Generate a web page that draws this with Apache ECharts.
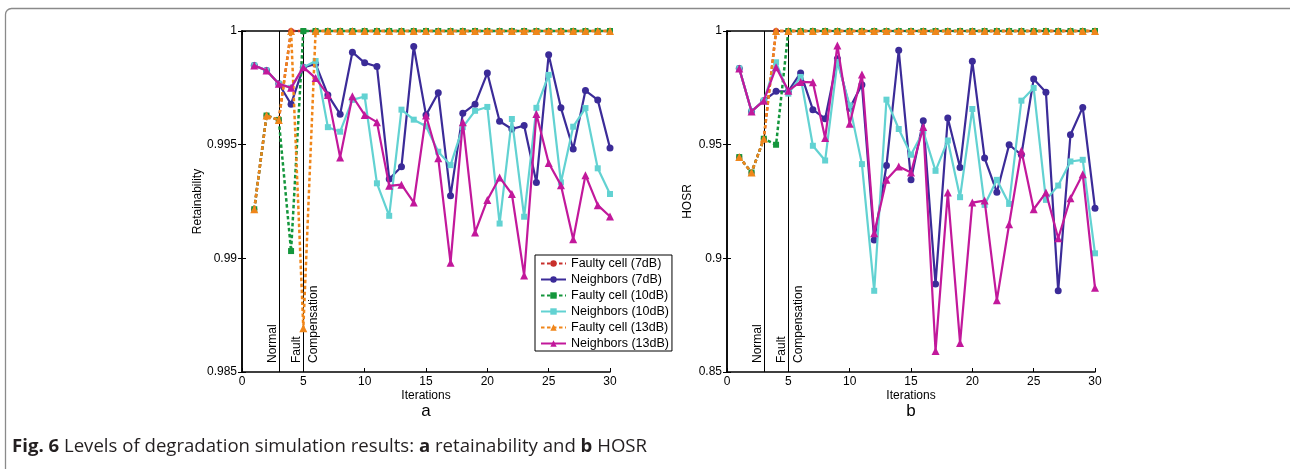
<!DOCTYPE html>
<html><head><meta charset="utf-8">
<script src="https://cdn.jsdelivr.net/npm/echarts@6/dist/echarts.min.js"></script>
<style>html,body{margin:0;padding:0;background:#fff}#c{width:1290px;height:469px}</style>
</head><body><div id="c"></div>
<script>
const iterations = [1,2,3,4,5,6,7,8,9,10,11,12,13,14,15,16,17,18,19,20,21,22,23,24,25,26,27,28,29,30];
const seriesNames = ['Faulty cell (7dB)','Neighbors (7dB)','Faulty cell (10dB)','Neighbors (10dB)','Faulty cell (13dB)','Neighbors (13dB)'];
const xTicks = [0,5,10,15,20,25,30];
const retTickLabels = ['0.985','0.99','0.995','1'];
const hosrTickLabels = ['0.85','0.9','0.95','1'];
const phaseLabels = ['Normal','Fault','Compensation'];
const phaseLines = [3,5];

// Retainability (a)
const retFaulty7  = [0.99216,0.99628,0.99609,1,1,1,1,1,1,1,1,1,1,1,1,1,1,1,1,1,1,1,1,1,1,1,1,1,1,1];
const retNb7      = [0.99848,0.99826,0.99768,0.99678,0.9984,0.99855,0.99719,0.99634,0.99907,0.9986,0.99844,0.99349,0.99403,0.99932,0.9963,0.99728,0.99275,0.99638,0.99678,0.99815,0.99603,0.99569,0.99584,0.99334,0.99896,0.99662,0.99481,0.99738,0.99697,0.99485];
const retFaulty10 = [0.99216,0.99628,0.99609,0.99032,1,1,1,1,1,1,1,1,1,1,1,1,1,1,1,1,1,1,1,1,1,1,1,1,1,1];
const retNb10     = [0.99848,0.99826,0.99768,0.9975,0.9984,0.99868,0.99577,0.99557,0.99697,0.99712,0.9933,0.99187,0.99654,0.9961,0.99581,0.99469,0.9941,0.99577,0.99649,0.99666,0.99153,0.99613,0.99183,0.99662,0.99807,0.99334,0.99579,0.99661,0.99396,0.99283];
const retFaulty13 = [0.99216,0.99628,0.99609,1,0.98692,1,1,1,1,1,1,1,1,1,1,1,1,1,1,1,1,1,1,1,1,1,1,1,1,1];
const retNb13     = [0.99848,0.99826,0.99768,0.9975,0.99841,0.99793,0.99719,0.99444,0.99713,0.99631,0.99599,0.99319,0.99324,0.99246,0.99628,0.9944,0.98981,0.99599,0.99114,0.99257,0.99356,0.99283,0.98925,0.99635,0.99419,0.99322,0.99084,0.99366,0.99234,0.99184];

// HOSR (b)
const hosrFaulty7  = [0.94453,0.93774,0.9526,1,1,1,1,1,1,1,1,1,1,1,1,1,1,1,1,1,1,1,1,1,1,1,1,1,1,1];
const hosrNb7      = [0.98347,0.96464,0.96936,0.97346,0.97346,0.98157,0.96539,0.96142,0.98774,0.966,0.97641,0.90807,0.94083,0.99153,0.93452,0.96054,0.88867,0.96173,0.93995,0.98668,0.94409,0.9291,0.94996,0.94555,0.97892,0.97302,0.88572,0.95437,0.9664,0.92205];
const hosrFaulty10 = [0.94453,0.93774,0.9526,0.94996,1,1,1,1,1,1,1,1,1,1,1,1,1,1,1,1,1,1,1,1,1,1,1,1,1,1];
const hosrNb10     = [0.98347,0.96464,0.96936,0.98625,0.97244,0.97979,0.94951,0.94303,0.98642,0.96729,0.94144,0.88572,0.9698,0.95688,0.94555,0.95582,0.93849,0.95185,0.9269,0.9657,0.9235,0.93452,0.92394,0.96936,0.97496,0.92571,0.93201,0.94261,0.94334,0.9022];
const hosrFaulty13 = [0.94453,0.93774,0.9526,1,1,1,1,1,1,1,1,1,1,1,1,1,1,1,1,1,1,1,1,1,1,1,1,1,1,1];
const hosrNb13     = [0.98347,0.96464,0.96936,0.98404,0.97377,0.9776,0.97743,0.95291,0.99361,0.95922,0.98082,0.91102,0.93452,0.94039,0.93774,0.95776,0.85926,0.92893,0.86279,0.92452,0.9254,0.88161,0.91499,0.94731,0.9216,0.92893,0.90882,0.92645,0.93704,0.88704];

const FONT = '"Liberation Sans", Arial, Helvetica, sans-serif';
const colors = ['#c8302c','#3b2b98','#14963c','#62d2d2','#f0861a','#c2189b'];
const symbols = ['circle','circle','rect','rect','triangle','triangle'];
const symSizes = [6,7,6,6,8,8];

const chart = echarts.init(document.getElementById('c'), null, {renderer:'canvas'});

function pair(arr){ return iterations.map((x,i)=>[x,arr[i]]); }

function makeSeries(sets, gridIdx){
  return sets.map((arr,k)=>{
    const faulty = k%2===0;
    return {
      name: seriesNames[k], type:'line', xAxisIndex: gridIdx*2, yAxisIndex: gridIdx*2,
      data: pair(arr), symbol: symbols[k], symbolSize: symSizes[k], showSymbol:true,
      clip:false, animation:false, z: 3+k,
      itemStyle:{color:colors[k]},
      lineStyle:{color:colors[k], width: faulty?2.5:2.2, type: faulty?[3.5,2.5]:'solid'}
    };
  });
}

function xAxes(gi){
  const common = {type:'value', gridIndex:gi, min:0, max:30, interval:5};
  return [
    Object.assign({}, common, {position:'bottom',
      axisLine:{lineStyle:{color:'#000',width:1.5}},
      axisTick:{inside:true,length:4,lineStyle:{color:'#000'}},
      axisLabel:{color:'#000',fontSize:12,fontFamily:FONT,margin:4,
        formatter:(v)=>{const i=xTicks.indexOf(Math.round(v));return i>=0?String(xTicks[i]):'';}},
      splitLine:{show:false},
      name:'Iterations', nameLocation:'middle', nameGap:17.5, nameMoveOverlap:false,
      nameTextStyle:{color:'#000',fontSize:12,fontFamily:FONT}}),
    Object.assign({}, common, {position:'top',
      axisLine:{lineStyle:{color:'#000',width:1.5}},
      axisTick:{inside:true,length:4,lineStyle:{color:'#000'}},
      axisLabel:{show:false}, splitLine:{show:false}})
  ];
}
function yAxes(gi, min, interval, labels, name, gap){
  const common = {type:'value', gridIndex:gi, min:min, max:1, interval:interval};
  return [
    Object.assign({}, common, {position:'left',
      axisLine:{show:true,lineStyle:{color:'#000',width:1.5}},
      axisTick:{show:true,inside:true,length:4,lineStyle:{color:'#000'}},
      axisLabel:{color:'#000',fontSize:12,fontFamily:FONT,margin:5,
        formatter:(v)=>{const i=Math.round((v-min)/interval);return labels[i]||'';}},
      splitLine:{show:false},
      name:name, nameLocation:'middle', nameGap:gap, nameMoveOverlap:false,
      nameTextStyle:{color:'#000',fontSize:12,fontFamily:FONT}}),
    Object.assign({}, common, {position:'right',
      axisLine:{show:true,lineStyle:{color:'#000',width:1.5}},
      axisTick:{show:true,inside:true,length:4,lineStyle:{color:'#000'}},
      axisLabel:{show:false}, splitLine:{show:false}})
  ];
}

const seriesA = makeSeries([retFaulty7,retNb7,retFaulty10,retNb10,retFaulty13,retNb13],0);
const seriesB = makeSeries([hosrFaulty7,hosrNb7,hosrFaulty10,hosrNb10,hosrFaulty13,hosrNb13],1);
[seriesA[0], seriesB[0]].forEach(s=>{
  s.markLine = {silent:true, symbol:'none', animation:false,
    label:{show:false}, lineStyle:{color:'#000',width:1,type:'solid'},
    data: phaseLines.map(v=>({xAxis:v}))};
});

chart.setOption({
  animation:false,
  backgroundColor:'#fff',
  grid:[
    {left:242, top:31, width:368, height:341},
    {left:727, top:31, width:368, height:341}
  ],
  xAxis:[...xAxes(0), ...xAxes(1)],
  yAxis:[...yAxes(0,0.985,0.005,retTickLabels,'Retainability',38),
         ...yAxes(1,0.85,0.05,hosrTickLabels,'HOSR',33)],
  legend:{
    data:seriesNames, orient:'vertical', left:535, top:255,
    itemWidth:25, itemHeight:8, itemGap:3, itemTextGap:2,
    padding:[2,3,1,5], borderColor:'#000', borderWidth:1, backgroundColor:'#fff',
    textStyle:{color:'#000',fontSize:12.5,fontFamily:FONT}, selectedMode:false
  },
  series:[...seriesA, ...seriesB]
});

const g = [];
[0,1].forEach(gi=>{
  const yMin = gi===0?0.985:0.85;
  const pN = chart.convertToPixel({gridIndex:gi},[3,yMin]);
  const pF = chart.convertToPixel({gridIndex:gi},[5,yMin]);
  const items = [[pN[0]-6,phaseLabels[0]],[pF[0]-7,phaseLabels[1]],[pF[0]+10,phaseLabels[2]]];
  items.forEach(([x,t])=>{
    g.push({type:'text', x:x, y:pN[1]-9, rotation:Math.PI/2, z:50,
      style:{text:t, fill:'#000', font:'12px '+FONT, align:'left', verticalAlign:'middle'}});
  });
  const c = chart.convertToPixel({gridIndex:gi},[15,yMin]);
  g.push({type:'text', x:c[0], y:411, z:50,
    style:{text: gi===0?'a':'b', fill:'#000', font:'17px '+FONT, align:'center', verticalAlign:'middle'}});
});
g.push({type:'rect', shape:{x:5.5,y:8.5,width:1320,height:520,r:6}, z:-1,
  style:{fill:'none', stroke:'#8a8a8a', lineWidth:1.3}});
g.push({type:'text', x:12, y:447, z:50,
  style:{text:'{b|Fig. 6} Levels of degradation simulation results: {b|a} retainability and {b|b} HOSR',
    rich:{b:{fontWeight:'bold', fontSize:18.6, fontFamily:'"Open Sans", sans-serif', fill:'#231f20'}},
    fill:'#231f20', font:'18.6px "Open Sans", sans-serif', align:'left', verticalAlign:'middle'}});
chart.setOption({graphic:g});
</script>
</body></html>
